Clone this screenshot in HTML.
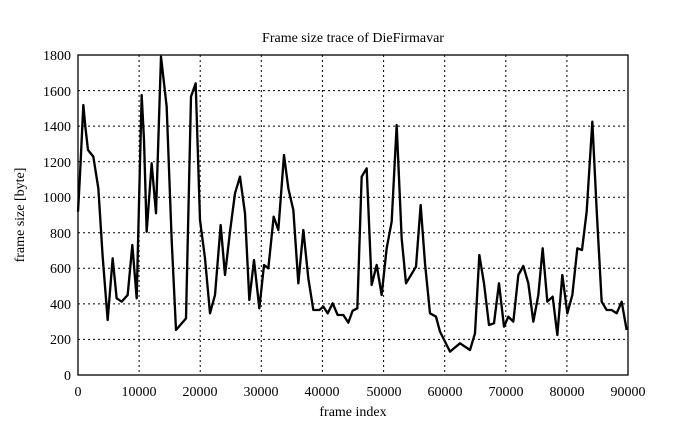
<!DOCTYPE html>
<html><head><style>body{margin:0;background:#fff}svg{display:block}text{font-family:"Liberation Serif",serif;font-size:14px;fill:#000}</style></head><body>
<svg width="695" height="429" viewBox="0 0 695 429">
<g stroke="#000" stroke-width="1" stroke-dasharray="2,3">
<line x1="78" x2="628" y1="339.4" y2="339.4"/><line x1="78" x2="628" y1="303.9" y2="303.9"/><line x1="78" x2="628" y1="268.3" y2="268.3"/><line x1="78" x2="628" y1="232.8" y2="232.8"/><line x1="78" x2="628" y1="197.2" y2="197.2"/><line x1="78" x2="628" y1="161.7" y2="161.7"/><line x1="78" x2="628" y1="126.1" y2="126.1"/><line x1="78" x2="628" y1="90.6" y2="90.6"/>
<line y1="55" y2="375" x1="139.1" x2="139.1"/><line y1="55" y2="375" x1="200.2" x2="200.2"/><line y1="55" y2="375" x1="261.3" x2="261.3"/><line y1="55" y2="375" x1="322.4" x2="322.4"/><line y1="55" y2="375" x1="383.6" x2="383.6"/><line y1="55" y2="375" x1="444.7" x2="444.7"/><line y1="55" y2="375" x1="505.8" x2="505.8"/><line y1="55" y2="375" x1="566.9" x2="566.9"/>
</g>
<rect x="78" y="55" width="550" height="320" fill="none" stroke="#000" stroke-width="1.3"/>
<g fill="none" stroke="#000" stroke-width="7" stroke-linejoin="round">
<polyline transform="translate(60,40) scale(0.33333)" points="54,515 60,405 70,195 76,260 84,330 100,350 115,445 128,650 143,840 158,655 170,775 185,785 203,765 217,615 230,775 245,165 252,300 260,575 275,370 288,520 303,50 320,200 335,600 348,870 378,835 393,170 407,130 420,540 435,655 450,820 465,765 482,555 495,705 510,575 525,460 540,410 555,520 568,780 582,660 598,805 612,675 625,685 641,530 655,570 672,345 685,445 700,510 715,730 730,570 745,715 760,810 778,810 790,800 803,820 818,790 833,825 840,825"/>
<polyline transform="translate(340,40) scale(0.33333)" points="0,825 10,825 25,848 38,812 52,805 65,410 80,385 95,735 110,675 125,765 140,625 155,545 170,255 185,595 198,730 213,705 228,680 242,495 255,670 270,820 288,830 300,875 330,935 360,910 390,930 405,880 418,645 432,730 447,855 462,850 477,730 492,860 505,830 520,845 535,705 550,678 565,730 580,845 595,765 608,625 622,785 638,770 652,885 667,705 682,820 697,765 712,625 726,630 740,515 757,245 770,510 785,785 800,810 815,810 830,820 845,785 860,870"/>
</g>
<g text-anchor="end">
<text x="71" y="380">0</text><text x="71" y="344">200</text><text x="71" y="309">400</text><text x="71" y="273">600</text><text x="71" y="238">800</text><text x="71" y="202">1000</text><text x="71" y="167">1200</text><text x="71" y="131">1400</text><text x="71" y="96">1600</text><text x="71" y="60">1800</text>
</g>
<g text-anchor="middle">
<text x="78" y="396">0</text><text x="139" y="396">10000</text><text x="200" y="396">20000</text><text x="261" y="396">30000</text><text x="322" y="396">40000</text><text x="384" y="396">50000</text><text x="445" y="396">60000</text><text x="506" y="396">70000</text><text x="567" y="396">80000</text><text x="628" y="396">90000</text>
<text x="353" y="416">frame index</text>
<text x="353" y="42">Frame size trace of DieFirmavar</text>
<text transform="translate(24,215) rotate(-90)">frame size [byte]</text>
</g>
</svg>
</body></html>
